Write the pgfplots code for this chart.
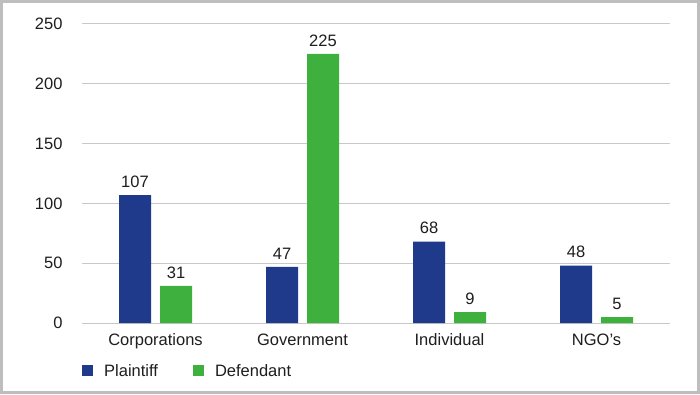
\documentclass[border=0pt]{standalone}
\usepackage{pgfplots}
\pgfplotsset{compat=1.18}
\usepackage{fontspec}
\setmainfont{Liberation Sans}
\definecolor{pblue}{RGB}{31,58,138}
\definecolor{dgreen}{RGB}{61,176,61}
\definecolor{gridc}{RGB}{200,200,200}
\definecolor{framec}{RGB}{190,190,190}
\definecolor{txt}{RGB}{30,30,30}
\begin{document}
\begin{tikzpicture}[x=1bp,y=1bp]
\useasboundingbox (0,0) rectangle (700,394);
\fill[white] (0,0) rectangle (700,394);
\draw[framec, line width=3bp] (1.5,1.5) rectangle (698.5,392.5);
\begin{axis}[
  at={(82bp,71bp)}, anchor=south west,
  scale only axis, width=588bp, height=299bp,
  ybar=9bp, bar width=32bp,
  xmin=-0.5, xmax=3.5, ymin=0, ymax=250,
  xtick=data, xticklabels={Corporations,Government,Individual,NGO’s},
  ytick={0,50,...,250},
  axis line style={draw=none},
  major tick length=0pt,
  ymajorgrids, grid style={gridc, line width=1bp},
  font=\fontsize{16.5bp}{19bp}\selectfont,
  tick label style={text=txt},
  /pgf/number format/assume math mode=true,
  yticklabel style={xshift=-16bp},
  xticklabel style={yshift=-7bp},
  nodes near coords,
  every node near coord/.append style={text=txt, yshift=4bp},
  legend style={at={(rel axis cs:0,-0.1605)}, anchor=west, draw=none, fill=none,
    inner sep=0pt, column sep=0pt, text=txt,
    nodes={inner xsep=0pt, text depth=0pt},
    /tikz/every odd column/.append style={column sep=11bp},
    /tikz/every even column/.append style={column sep=35bp}},
  legend columns=2,
  legend image code/.code={\fill[#1] (0bp,-5.5bp) rectangle (11bp,5.5bp);},
]
\addplot[fill=pblue, draw=none] coordinates {(0,107) (1,47) (2,68) (3,48)};
\addplot[fill=dgreen, draw=none] coordinates {(0,31) (1,225) (2,9) (3,5)};
\legend{Plaintiff,Defendant}
\end{axis}
\end{tikzpicture}
\end{document}
